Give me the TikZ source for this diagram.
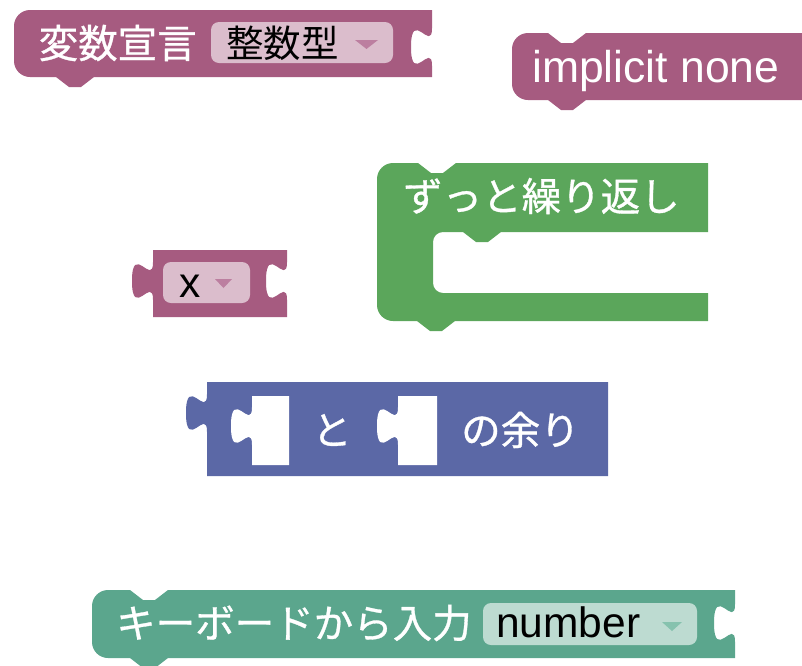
\documentclass[tikz,border=0pt]{standalone}
\usepackage{fontspec}
\newfontfamily\jpfont[FakeBold=0.8]{Noto Sans CJK JP}
\newfontfamily\jpplain{Noto Sans CJK JP}
\newfontfamily\latfont{Liberation Sans}
\definecolor{mag}{HTML}{A65B80}
\definecolor{magfield}{HTML}{DBBDCC}
\definecolor{magarrow}{HTML}{BC7FA0}
\definecolor{grn}{HTML}{5BA65B}
\definecolor{blu}{HTML}{5B68A6}
\definecolor{teal}{HTML}{5BA68D}
\definecolor{tealfield}{HTML}{BDDBD1}
\definecolor{tealarrow}{HTML}{86C2AE}
% puzzle tab going down on an edge at x=#1, centre y=#2, direction #3 (-1 = towards left)
\newcommand\puzD[3]{.. controls (#1,{#2+6.25}) and ({#1+21*(#3)},{#2-39.5}) .. ({#1+21*(#3)},#2) .. controls ({#1+21*(#3)},{#2+39.5}) and (#1,{#2-6.25}) .. (#1,{#2+18.75})}
% puzzle tab going up
\newcommand\puzU[3]{.. controls (#1,{#2-6.25}) and ({#1+21*(#3)},{#2+39.5}) .. ({#1+21*(#3)},#2) .. controls ({#1+21*(#3)},{#2-39.5}) and (#1,{#2+6.25}) .. (#1,{#2-18.75})}
\tikzset{
  jptext/.style={font=\jpfont\fontsize{39.5}{41}\selectfont, text=white, inner sep=0pt},
  jpdark/.style={font=\jpplain\fontsize{37.5}{40}\selectfont, text=black, inner sep=0pt},
  lattext/.style={font=\latfont\fontsize{44.5}{46}\selectfont, text=white, inner sep=0pt},
  latdark/.style={font=\latfont\fontsize{42.5}{45}\selectfont, text=black, inner sep=0pt},
  fieldbox/.style={rounded corners=8pt},
}
\begin{document}
\begin{tikzpicture}[x=1pt,y=-1pt]
\useasboundingbox (0,0) rectangle (802,665);

% ---- block 1: 変数宣言
\fill[mag] (30,10) -- (432,10) -- (432,28.25) \puzD{432}{47}{-1} -- (432,77)
  -- (94,77) -- (81,87) -- (69,87) -- (56,77) -- (30,77)
  .. controls (21.2,77) and (14,69.8) .. (14,61) -- (14,26)
  .. controls (14,17.2) and (21.2,10) .. (30,10) -- cycle;
\fill[magfield, fieldbox] (211,22) rectangle (393,63);
\fill[magarrow] (355,40) -- (378,40) -- (366.5,49) -- cycle;
\node[jptext, anchor=west] (t1) at (38.5,43) {変数宣言};
\node[jpdark, anchor=west] (f1) at (226,43) {整数型};

% ---- block 2: implicit none
\fill[mag] (528,33) -- (548,33) -- (561,43) -- (573,43) -- (586,33) -- (812,33)
  -- (812,100) -- (586,100) -- (573,110) -- (561,110) -- (548,100) -- (528,100)
  .. controls (519.2,100) and (512,92.8) .. (512,84) -- (512,49)
  .. controls (512,40.2) and (519.2,33) .. (528,33) -- cycle;
\node[lattext, anchor=base west] (t2) at (532,82) {implicit none};

% ---- block 3: x
\fill[mag] (153,250) -- (287,250) -- (287,262.25) \puzD{287}{281}{-1} -- (287,317)
  -- (153,317) -- (153,299.75) \puzU{153}{281}{-1} -- cycle;
\fill[magfield, fieldbox] (163,262) rectangle (250,303);
\fill[magarrow] (215,279) -- (232,279) -- (223.5,288) -- cycle;
\node[latdark, anchor=base] (t3) at (190,297) {x};

% ---- block 4: ずっと繰り返し
\fill[grn] (393,163) -- (418,163) -- (431,173) -- (443,173) -- (456,163) -- (708,163)
  -- (708,232) -- (501,232) -- (488,242) -- (476,242) -- (463,232) -- (443,232)
  .. controls (437.5,232) and (433,236.5) .. (433,242) -- (433,283)
  .. controls (433,288.5) and (437.5,293) .. (443,293) -- (708,293) -- (708,321)
  -- (455,321) -- (442,331) -- (430,331) -- (417,321) -- (393,321)
  .. controls (384.2,321) and (377,313.8) .. (377,305) -- (377,179)
  .. controls (377,170.2) and (384.2,163) .. (393,163) -- cycle;
\node[jptext, anchor=west] (t4) at (403,196) {ずっと繰り返し};

% ---- block 5: と の余り
\fill[blu] (207,382) -- (608,382) -- (608,476) -- (207,476) -- (207,431.75)
  \puzU{207}{413}{-1} -- cycle;
\fill[white] (252,396) -- (289,396) -- (289,465) -- (252,465) -- (252,444.75)
  \puzU{252}{426}{-1} -- cycle;
\fill[white] (398,396) -- (437,396) -- (437,465) -- (398,465) -- (398,444.75)
  \puzU{398}{426}{-1} -- cycle;
\node[jptext] (t5a) at (332,430) {と};
\node[jptext, anchor=west] (t5b) at (461,430) {の余り};

% ---- block 6: キーボードから入力
\fill[teal] (108,590) -- (130,590) -- (143,600) -- (155,600) -- (168,590) -- (735,590)
  -- (735,604.25) \puzD{735}{623}{-1} -- (735,658)
  -- (168,658) -- (155,668) -- (143,668) -- (130,658) -- (108,658)
  .. controls (99.2,658) and (92,650.8) .. (92,642) -- (92,606)
  .. controls (92,597.2) and (99.2,590) .. (108,590) -- cycle;
\fill[tealfield, fieldbox] (483,603) rectangle (697,645);
\fill[tealarrow] (662,622) -- (682,622) -- (672,631) -- cycle;
\node[jptext, anchor=west] (t6) at (116,623) {キーボードから入力};
\node[latdark, anchor=base west] (f6) at (496,637) {number};
\end{tikzpicture}
\end{document}
